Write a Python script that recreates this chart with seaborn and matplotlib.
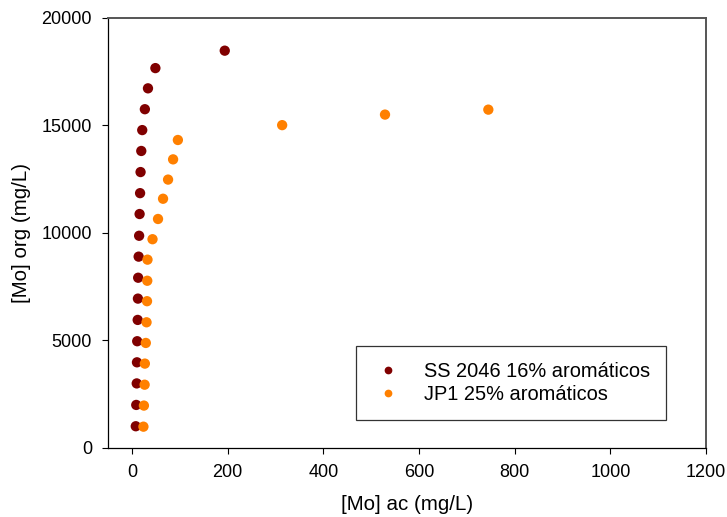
import pandas as pd
import matplotlib.pyplot as plt
import seaborn as sns

# [Mo] ac (x) vs [Mo] org (y)
ss_ac = [8, 9, 10, 10.5, 11, 12, 12.5, 13, 14, 15, 16, 17, 18, 19.5, 21.5,
         27, 33.5, 49, 194]
ss_org = [1010, 2000, 3000, 3980, 4960, 5950, 6940, 7910, 8890, 9860, 10870,
          11840, 12820, 13800, 14770, 15740, 16710, 17650, 18460]

jp_ac = [24, 25, 26.5, 27, 29, 30.5, 31.5, 32, 32.5, 43, 54.5, 65, 75.5, 86,
         96, 314, 529, 745]
jp_org = [990, 1970, 2940, 3920, 4880, 5840, 6820, 7770, 8750, 9700, 10640,
          11580, 12470, 13410, 14310, 15000, 15490, 15720]

series_names = ['SS 2046 16% aromáticos', 'JP1 25% aromáticos']
series_colors = ['#800000', '#ff8000']


def main():
    df = pd.concat([
        pd.DataFrame({'ac': ss_ac, 'org': ss_org, 'serie': series_names[0]}),
        pd.DataFrame({'ac': jp_ac, 'org': jp_org, 'serie': series_names[1]}),
    ], ignore_index=True)

    sns.set_style('white')
    plt.rcParams['font.family'] = ['Liberation Sans', 'DejaVu Sans']
    plt.rcParams['text.color'] = 'black'
    plt.rcParams['axes.labelcolor'] = 'black'
    plt.rcParams['xtick.color'] = 'black'
    plt.rcParams['ytick.color'] = 'black'

    fig = plt.figure(figsize=(7.27, 5.17), dpi=100)
    ax = fig.add_axes([0.1486, 0.1335, 0.8225, 0.8326])

    sns.scatterplot(data=df, x='ac', y='org', hue='serie',
                    palette=dict(zip(series_names, series_colors)),
                    s=55, linewidth=0, ax=ax)

    ax.set_xlim(-50, 1200)
    ax.set_ylim(0, 20000)
    ax.set_xticks(range(0, 1201, 200))
    ax.set_yticks(range(0, 20001, 5000))
    ax.tick_params(axis='both', which='both', direction='out', length=4.5,
                   width=0.8, colors='black', labelsize=13, pad=7)
    ax.xaxis.set_ticks_position('bottom')
    ax.yaxis.set_ticks_position('left')

    for side in ['left', 'bottom']:
        ax.spines[side].set_color('black')
        ax.spines[side].set_linewidth(0.9)
    for side in ['top', 'right']:
        ax.spines[side].set_color('#555555')
        ax.spines[side].set_linewidth(1.4)

    ax.set_xlabel('[Mo] ac (mg/L)', fontsize=14.8)
    ax.set_ylabel('[Mo] org (mg/L)', fontsize=14.8)
    ax.xaxis.set_label_coords(0.5, -0.11)
    ax.yaxis.set_label_coords(-0.128, 0.5)

    leg = ax.legend(loc='upper left', bbox_to_anchor=(0.414, 0.238),
                    borderaxespad=0, frameon=True, fancybox=False,
                    fontsize=14.4, markerscale=0.75, handletextpad=1.0,
                    borderpad=0.8, labelspacing=0.2, handlelength=1.6)
    leg.get_frame().set_edgecolor('black')
    leg.get_frame().set_linewidth(0.9)
    for t in leg.get_texts():
        t.set_color('black')

    fig.savefig('out.png', dpi=100)


if __name__ == "__main__":
    main()
